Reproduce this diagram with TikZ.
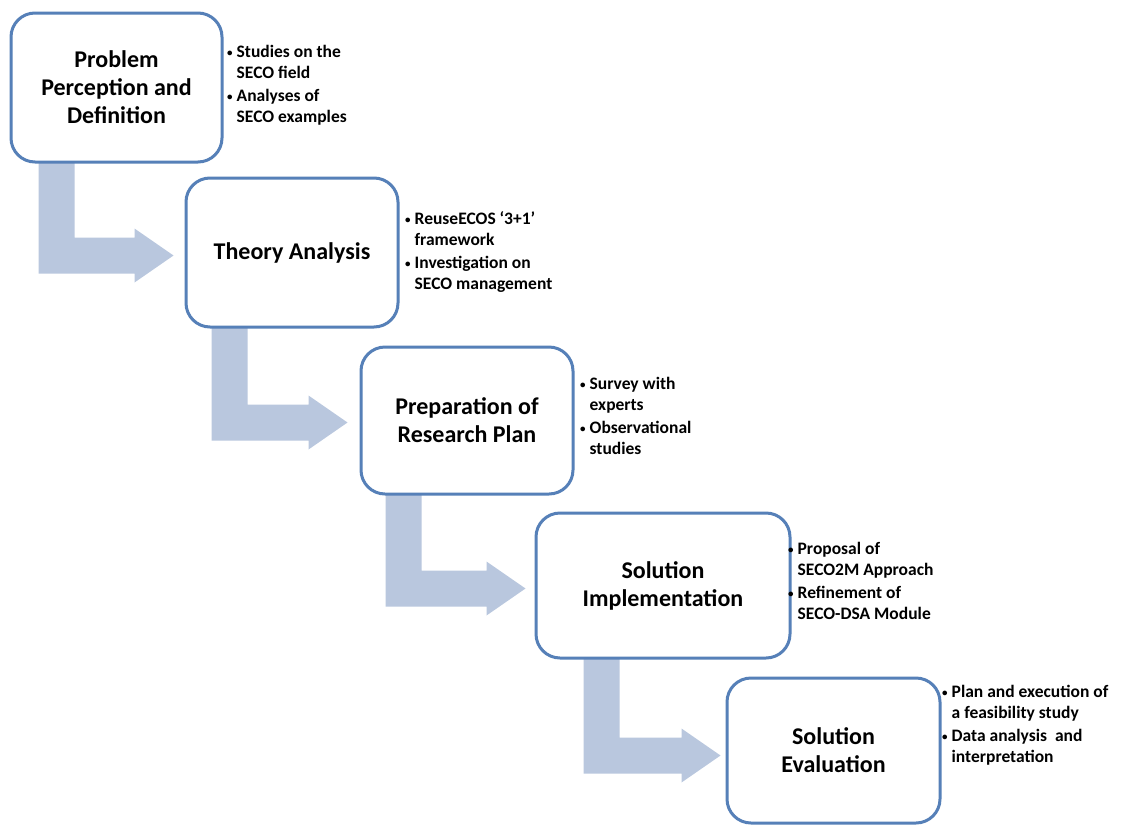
\documentclass[tikz,border=0pt]{standalone}
\usepackage{fontspec}
\setmainfont{Carlito}
\usetikzlibrary{calc,backgrounds}
\definecolor{boxline}{HTML}{5680B8}
\definecolor{arrowfill}{HTML}{B9C7DE}
\tikzset{
  stage/.style={draw=boxline, line width=3pt, fill=white, rounded corners=24pt,
    align=center, font=\fontsize{24}{28}\selectfont\bfseries, inner sep=0pt},
  notes/.style={anchor=north west, inner sep=0pt, align=left,
    font=\fontsize{17.5}{20.5}\selectfont\bfseries},
  bentarrow/.style={fill=arrowfill, draw=none}
}
\newcommand\bul{\raisebox{1.5pt}{\fontsize{11}{11}\selectfont\textbullet}}
\newcommand\notelist[4]{%
  \begin{tabular}{@{}l@{\hspace{4pt}}l@{}}
  \bul & #1\\ & #2\\[3pt]
  \bul & #3\\ & #4
  \end{tabular}}
\begin{document}
\begin{tikzpicture}[x=1pt,y=-1pt]
\useasboundingbox (0,0) rectangle (1127,825);

\node[stage, minimum width=211pt, minimum height=149pt] (b1) at (116.5,87.5)
  {Problem\\Perception and\\Definition};
\node[stage, minimum width=212pt, minimum height=149pt] (b2) at (292,252.5)
  {Theory Analysis};
\node[stage, minimum width=212pt, minimum height=147pt] (b3) at (467,420.5)
  {Preparation of\\Research Plan};
\node[stage, minimum width=254pt, minimum height=145pt] (b4) at (663,585.5)
  {Solution\\Implementation};
\node[stage, minimum width=213pt, minimum height=145pt] (b5) at (833.5,750.5)
  {Solution\\Evaluation};

\node[notes] (n1) at (227,43) {\notelist{Studies on the}{SECO field}{Analyses of}{SECO examples}};
\node[notes] (n2) at (405,210) {\notelist{ReuseECOS ‘3+1’}{framework}{Investigation on}{SECO management}};
\node[notes] (n3) at (580,375) {\notelist{Survey with}{experts}{Observational}{studies}};
\node[notes] (n4) at (788,540) {\notelist{Proposal of}{SECO2M Approach}{Refinement of}{SECO-DSA Module}};
\node[notes] (n5) at (942,683) {\notelist{Plan and execution of}{a feasibility study}{Data analysis\ \ and}{interpretation}};

\begin{scope}[on background layer]
\fill[white] (0,0) rectangle (1127,825);
\foreach \a/\b/\dx/\gap/\dy in {b1/b2/29/11/3, b2/b3/27/12/2, b3/b4/26/9/3, b4/b5/49/5/5}{
  \coordinate (S) at ($(\a.south west)+(\dx,-2)$);
  \coordinate (T) at ($(\b.west)+(-\gap,\dy)$);
  \fill[bentarrow] (S) -- ++(36,0) |- ($(T)+(-39,-18)$) -- ($(T)+(-39,-27)$)
    -- (T) -- ($(T)+(-39,27)$) -- ($(T)+(-39,18)$) -| (S) -- cycle;
}
\end{scope}
\end{tikzpicture}
\end{document}
